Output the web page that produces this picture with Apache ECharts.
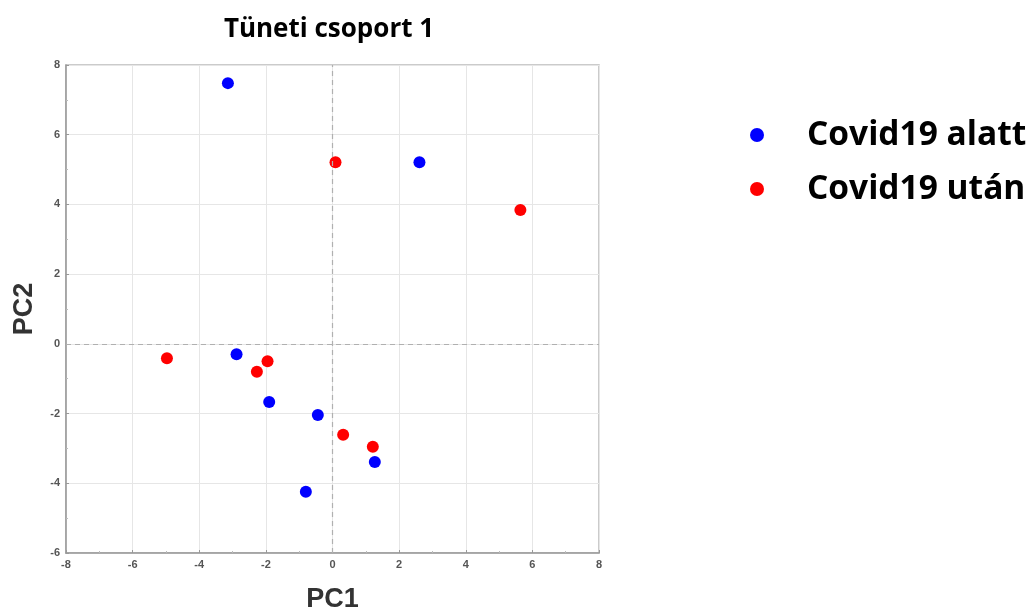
<!DOCTYPE html>
<html><head><meta charset="utf-8">
<script src="https://cdn.jsdelivr.net/npm/echarts@6/dist/echarts.min.js"></script>
<style>html,body{margin:0;padding:0;background:#fff}#c{width:1033px;height:612px}</style>
</head><body><div id="c"></div>
<script>
const title = 'Tüneti csoport 1';
const seriesNames = ['Covid19 alatt', 'Covid19 után'];
const xTicks = [-8, -6, -4, -2, 0, 2, 4, 6, 8];
const yTicks = [-6, -4, -2, 0, 2, 4, 6, 8];
const alattPoints = [
  [-3.14, 7.48], [2.61, 5.21], [-2.88, -0.30], [-1.90, -1.67],
  [-0.44, -2.04], [1.27, -3.39], [-0.80, -4.24]
];
const utanPoints = [
  [0.09, 5.21], [5.64, 3.84], [-4.97, -0.41], [-1.95, -0.50],
  [-2.27, -0.80], [0.32, -2.61], [1.21, -2.95]
];

const chart = echarts.init(document.getElementById('c'));
const axisLabel = {color: '#555', fontSize: 11, fontWeight: 'bold', fontFamily: 'Liberation Sans'};
const nameStyle = {color: '#333', fontSize: 27, fontWeight: 'bold', fontFamily: 'Liberation Sans'};
chart.setOption({
  backgroundColor: '#fff',
  title: {
    text: title, left: 324, top: 8, textAlign: 'center',
    textStyle: {fontSize: 26, fontWeight: 'bold', color: '#000', fontFamily: 'Open Sans', lineHeight: 34}
  },
  legend: {
    orient: 'vertical', left: 745, top: 112,
    itemWidth: 14, itemHeight: 14, itemGap: 18,
    icon: 'circle',
    data: seriesNames,
    textStyle: {fontSize: 33.5, fontWeight: 'bold', color: '#000', fontFamily: 'Open Sans',
                padding: [0, 0, 0, 38], lineHeight: 36}
  },
  grid: {left: 66, right: 434, top: 65, bottom: 59, outerBoundsMode: 'none',
         show: true, borderColor: '#bbb', borderWidth: 1.5},
  xAxis: {
    type: 'value', min: xTicks[0], max: xTicks[xTicks.length - 1], interval: 2,
    name: 'PC1', nameLocation: 'middle', nameGap: 33, nameTextStyle: nameStyle,
    axisLine: {show: true, onZero: false, lineStyle: {color: '#999', width: 1.5}},
    axisTick: {show: true, inside: true, length: 3, lineStyle: {color: '#999'}},
    minorTick: {show: true, splitNumber: 2, length: 2, lineStyle: {color: '#bbb'}},
    axisLabel: Object.assign({margin: 6}, axisLabel),
    splitLine: {show: true, lineStyle: {color: '#e6e6e6', width: 1}}
  },
  yAxis: {
    type: 'value', min: yTicks[0], max: yTicks[yTicks.length - 1], interval: 2,
    name: 'PC2', nameLocation: 'middle', nameGap: 28, nameTextStyle: nameStyle,
    axisLine: {show: true, onZero: false, lineStyle: {color: '#999', width: 1.5}},
    axisTick: {show: true, inside: true, length: 3, lineStyle: {color: '#999'}},
    minorTick: {show: true, splitNumber: 2, length: 2, lineStyle: {color: '#bbb'}},
    axisLabel: Object.assign({margin: 6}, axisLabel),
    splitLine: {show: true, lineStyle: {color: '#e6e6e6', width: 1}}
  },
  series: [
    {
      name: seriesNames[0], type: 'scatter', symbolSize: 12,
      itemStyle: {color: '#0000ff', opacity: 1}, data: alattPoints,
      markLine: {
        silent: true, symbol: 'none', label: {show: false},
        lineStyle: {type: [5, 4], color: '#b0b0b0', width: 1.2},
        data: [{xAxis: 0}, {yAxis: 0}]
      },
      z: 3
    },
    {
      name: seriesNames[1], type: 'scatter', symbolSize: 12,
      itemStyle: {color: '#ff0000', opacity: 1}, data: utanPoints, z: 3
    }
  ]
});
</script></body></html>
